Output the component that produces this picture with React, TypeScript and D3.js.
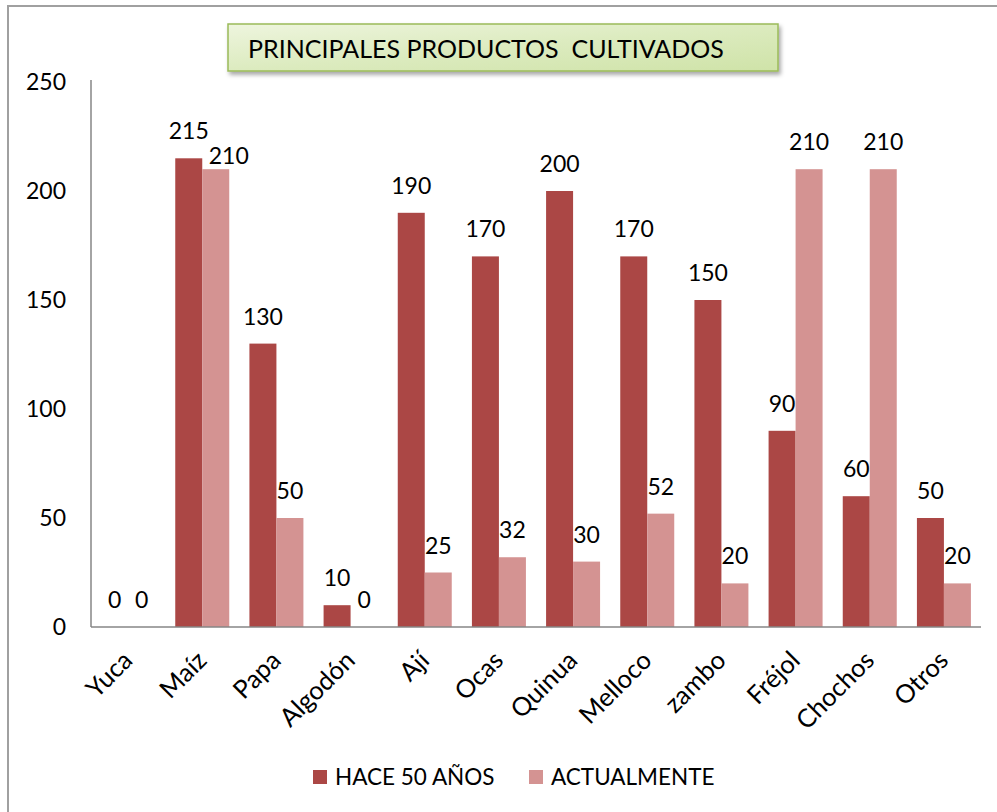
import React from "react";
import * as d3 from "d3";

const categories = ["Yuca", "Maíz", "Papa", "Algodón", "Ají", "Ocas", "Quinua", "Melloco", "zambo", "Fréjol", "Chochos", "Otros"];
const hace50 = [0, 215, 130, 10, 190, 170, 200, 170, 150, 90, 60, 50];
const actual = [0, 210, 50, 0, 25, 32, 30, 52, 20, 210, 210, 20];
const seriesNames = ["HACE 50 AÑOS", "ACTUALMENTE"];
const yTicks = [0, 50, 100, 150, 200, 250];
const title = "PRINCIPALES PRODUCTOS  CULTIVADOS";

const COLORS = ["#AB4745", "#D49392"];
const FONT = "Lato, 'Open Sans', sans-serif";

export default function App() {
  const W = 997, H = 812;
  const x0 = 91, x1 = 981, yTop = 82, yBot = 627;
  const x = d3.scaleBand<string>().domain(categories).range([x0, x1]).paddingInner(0.272).paddingOuter(0.136);
  const y = d3.scaleLinear().domain([0, 250]).range([yBot, yTop]);
  const sub = d3.scaleBand<number>().domain([0, 1]).range([0, x.bandwidth()]);
  const series = [hace50, actual];

  const labelPos = (si: number, i: number) => {
    const c = categories[i];
    let lx = (x(c) as number) + (sub(si) as number) + sub.bandwidth() / 2;
    let ly = y(series[si][i]) - 19;
    if (si === 1) {
      const other = y(series[0][i]) - 19;
      if (Math.abs(other - ly) < 18 && series[0][i] > 0) {
        lx += 13;
        ly += 14;
      }
    }
    return [lx, ly];
  };

  return (
    <svg width={W} height={H} style={{ position: "absolute", left: 0, top: 0, background: "#fff" }} fontFamily={FONT}>
      <defs>
        <linearGradient id="tg" x1="0" y1="0" x2="1" y2="1">
          <stop offset="0" stopColor="#eef5de" />
          <stop offset="0.5" stopColor="#dcebbf" />
          <stop offset="1" stopColor="#cfe3a8" />
        </linearGradient>
        <filter id="sh" x="-5%" y="-20%" width="110%" height="160%">
          <feDropShadow dx="2" dy="3" stdDeviation="2" floodColor="#000" floodOpacity="0.35" />
        </filter>
      </defs>
      <rect x={8} y={6} width={1100} height={900} fill="#fff" stroke="#a0a0a0" strokeWidth={2} />

      {yTicks.map((t) => (
        <text key={t} x={66} y={y(t)} dy="0.35em" textAnchor="end" fontSize={23} fill="#000">{t}</text>
      ))}

      {series.map((vals, si) =>
        categories.map((c, i) => (
          <rect key={`${si}-${c}`} x={(x(c) as number) + (sub(si) as number)} y={y(vals[i])}
            width={sub.bandwidth()} height={yBot - y(vals[i])} fill={COLORS[si]} />
        ))
      )}

      {series.map((vals, si) =>
        categories.map((c, i) => {
          const [lx, ly] = labelPos(si, i);
          return (
            <text key={`l${si}-${c}`} x={lx} y={ly} textAnchor="middle" fontSize={23} fill="#000">{vals[i]}</text>
          );
        })
      )}

      <line x1={x0} x2={x0} y1={yTop - 2} y2={yBot} stroke="#868686" strokeWidth={1.5} />
      <line x1={x0} x2={x1} y1={yBot} y2={yBot} stroke="#868686" strokeWidth={1.5} />

      {categories.map((c) => {
        const cx = (x(c) as number) + x.bandwidth() / 2 + 6;
        const cy = yBot + 35;
        return (
          <text key={`c-${c}`} x={cx} y={cy} textAnchor="end" fontSize={25.5} fill="#000"
            transform={`rotate(-45, ${cx}, ${cy})`}>{c}</text>
        );
      })}

      <rect x={228} y={24} width={550} height={47} fill="url(#tg)" stroke="#9bbb59" strokeWidth={1.5} filter="url(#sh)" />
      <text x={486} y={58} textAnchor="middle" fontSize={25} fill="#000" style={{ whiteSpace: "pre" }}>{title}</text>

      <rect x={313} y={770} width={14} height={14} fill={COLORS[0]} />
      <text x={335} y={777} dy="0.35em" fontSize={22.5} fill="#000">{seriesNames[0]}</text>
      <rect x={529} y={770} width={14} height={14} fill={COLORS[1]} />
      <text x={551} y={777} dy="0.35em" fontSize={22.5} fill="#000">{seriesNames[1]}</text>
    </svg>
  );
}
